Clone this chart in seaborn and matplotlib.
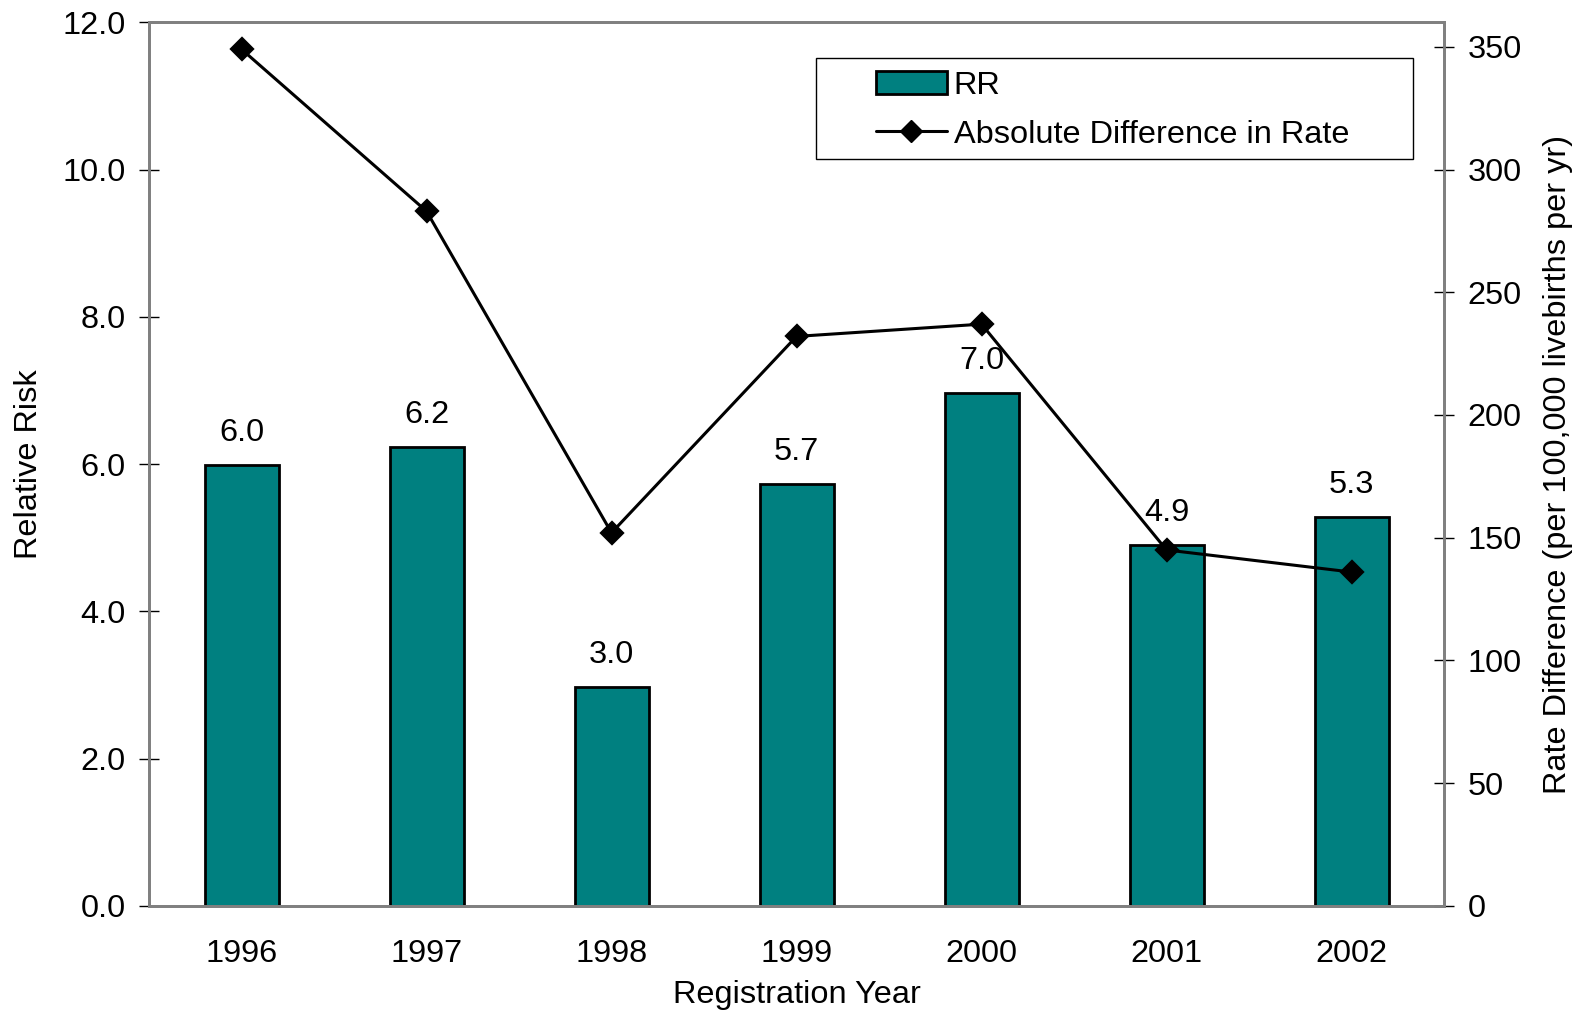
import matplotlib
matplotlib.use("Agg")
import numpy as np
import pandas as pd
import matplotlib.pyplot as plt
import seaborn as sns
from matplotlib.patches import Rectangle, Patch
from matplotlib.lines import Line2D

# data
years = ["1996", "1997", "1998", "1999", "2000", "2001", "2002"]
relative_risk = [5.99, 6.23, 2.97, 5.73, 6.97, 4.90, 5.28]
rate_difference = [349, 283, 152, 232, 237, 145, 136]

sns.set_theme(style="white")
plt.rcParams['font.family'] = ['Liberation Sans', 'DejaVu Sans']
plt.rcParams.update({"text.color": "black", "axes.labelcolor": "black",
                     "xtick.color": "black", "ytick.color": "black"})
FS = 23.4
TEAL = "#008080"
GRAY = "#808080"

df = pd.DataFrame({"Year": years, "RR": relative_risk, "Diff": rate_difference})

fig = plt.figure(figsize=(15.87, 10.11), dpi=100)
ax = fig.add_axes([0.0939, 0.104, 0.8160, 0.874])

# bars: relative risk
sns.barplot(data=df, x="Year", y="RR", order=years, color=TEAL, saturation=1,
            width=0.4, edgecolor="black", linewidth=2, ax=ax)
ax.bar_label(ax.containers[0], fmt="%.1f", padding=12, fontsize=FS)

# line: absolute difference on the secondary axis
ax2 = ax.twinx()
sns.pointplot(data=df, x="Year", y="Diff", order=years, color="black",
              markers="D", markersize=11, linewidth=2.2, ax=ax2)

ax.set_xlim(-0.5, len(years) - 0.5)
ax.set_ylim(0, 12)
ax2.set_ylim(0, 360)

ax.set_yticks(np.arange(0, 12.1, 2))
ax.set_yticklabels([f"{v:.1f}" for v in np.arange(0, 12.1, 2)], fontsize=FS)
ax2.set_yticks(np.arange(0, 351, 50))
ax2.set_yticklabels([str(v) for v in np.arange(0, 351, 50)], fontsize=FS)

ax.set_xticks(np.arange(-0.5, len(years)), labels=[""] * (len(years) + 1))
ax.set_xticks(range(len(years)), labels=years, minor=True)
ax.tick_params(axis="x", which="major", direction="inout", length=14, width=1, color="black")
ax.tick_params(axis="x", which="minor", length=0, pad=24, labelsize=FS)
ax.tick_params(axis="y", direction="inout", length=14, width=1, color="black", pad=10, left=True)
ax2.tick_params(axis="y", direction="inout", length=14, width=1, color="black", pad=10, right=True)

ax.set_xlabel("Registration Year", fontsize=FS, labelpad=8)
ax.set_ylabel("Relative Risk", fontsize=FS, labelpad=13)
ax2.set_ylabel("Rate Difference (per 100,000 livebirths per yr)", fontsize=FS, labelpad=15)
ax2.set_xlabel("")

for a in (ax, ax2):
    for s in a.spines.values():
        s.set_visible(True)
        s.set_color(GRAY)
        s.set_linewidth(2)
    a.grid(False)

# legend with a wide framed box
ax2.add_patch(Rectangle((0.515, 0.845), 0.461, 0.114, transform=ax2.transAxes,
                        facecolor="white", edgecolor="black", linewidth=1, zorder=4))
handles = [Patch(facecolor=TEAL, edgecolor="black", linewidth=2),
           Line2D([], [], color="black", marker="D", markersize=11, linewidth=2.2)]
leg = ax2.legend(handles, ["RR", "Absolute Difference in Rate"], loc="upper left",
                 bbox_to_anchor=(0.561, 0.945), frameon=False, fontsize=FS,
                 borderpad=0, borderaxespad=0, handlelength=2.2, handletextpad=0.2,
                 labelspacing=0.58)
leg.set_zorder(5)

fig.savefig("out.png", dpi=100)
